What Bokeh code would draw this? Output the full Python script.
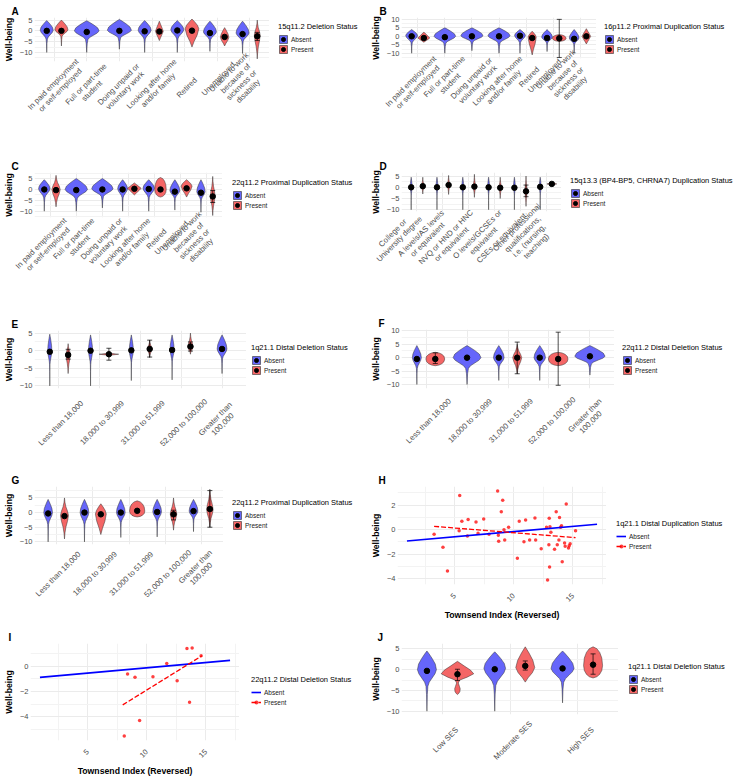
import math
from collections import Counter

from bokeh.plotting import figure
from bokeh.models import (ColumnDataSource, Range1d, FixedTicker, Legend, LegendItem,
                          Whisker, TeeHead)
from bokeh.layouts import column, row
from bokeh.embed import file_html
from bokeh.resources import INLINE

FONT = "Liberation Sans"
ABSENT_FILL = "#6666FA"
PRESENT_FILL = "#F46666"
OUTLINE = "#333333"
GRID = "#EBEBEB"
GRID_MINOR = "#F3F3F3"
TICK_TEXT = "#4D4D4D"
DODGE = 0.225
CAT_FONT_PX = 7.8

# ---------------------------------------------------------------- categories
EMPLOYMENT = ["In paid employment\nor self-employed", "Full or part-time\nstudent",
              "Doing unpaid or\nvoluntary work", "Looking after home\nand/or family",
              "Retired", "Unemployed",
              "Unable to work\nbecause of\nsickness or\ndisability"]
EDUCATION = ["College or\nUniversity degree", "A levels/AS levels\nor equivalent",
             "NVQ or HND or HNC\nor equivalent", "O levels/GCSEs or\nequivalent",
             "CSEs or equivalent",
             "Other professional\nqualifications,\ni.e. (nursing,\nteaching)"]
INCOME = ["Less than 18,000", "18,000 to 30,999", "31,000 to 51,999",
          "52,000 to 100,000", "Greater than\n100,000"]
SES = ["Low SES", "Moderate SES", "High SES"]

# ------------------------------------------------ A: employment, 15q11.2 deletion
A_CAT = [0, 0, 1, 2, 3, 3, 4, 4, 5, 5, 6, 6]
A_GRP = list("APAAAPAPAPAP")
A_MEAN = [0.0, 0.0, -0.5, 0.0, -0.2, -0.3, 0.2, 0.1, -1.0, -2.8, -1.5, -2.5]
A_MAX = [4.8, 5.0, 4.7, 5.3, 4.8, 4.5, 4.8, 5.5, 4.5, 1.5, 4.5, 5.0]
A_MIN = [-10.0, -7.0, -10.0, -8.5, -10.0, -4.5, -10.0, -7.5, -9.5, -7.0, -10.5, -13.0]
A_MODE = [0.3, 0.5, 0.0, 0.3, 0.3, -0.2, 0.5, 1.0, -0.5, -3.0, -1.0, -2.0]
A_DENS = [0.20, 0.20, 0.38, 0.37, 0.20, 0.12, 0.20, 0.21, 0.20, 0.13, 0.20, 0.09]
A_SHAPE = ["tail", "tail", "tail", "tail", "tail", "diamond", "tail", "drop",
           "tail", "drop", "tail", "spindle"]
A_ERR_IDX, A_ERR_LO, A_ERR_HI = [11], [-4.5], [-0.7]

# ------------------------------------- B: employment, 16p11.2 proximal duplication
B_CAT = [0, 0, 1, 2, 3, 4, 4, 5, 5, 6, 6]
B_GRP = list("APAAAAPAPAP")
B_MEAN = [0.0, -1.0, -0.5, 0.0, 0.0, 0.3, -1.0, -1.0, -1.2, -1.5, 0.0]
B_MAX = [4.0, 2.5, 5.0, 5.0, 5.0, 4.0, 3.0, 4.0, 1.0, 4.0, 4.5]
B_MIN = [-10.0, -3.5, -10.0, -8.5, -10.0, -10.0, -11.0, -9.0, -3.0, -10.0, -4.5]
B_MODE = [0.3, -1.0, 0.0, 0.3, 0.3, 0.5, -0.5, -0.5, -1.2, -1.0, 0.0]
B_DENS = [0.22, 0.22, 0.40, 0.41, 0.41, 0.20, 0.15, 0.20, 0.25, 0.18, 0.16]
B_SHAPE = ["tail", "diamond", "tail", "tail", "tail", "tail", "drop", "tail",
           "round", "tail", "diamond"]
B_ERR_IDX, B_ERR_LO, B_ERR_HI = [8], [-12.5], [10.0]

# ------------------------------------- C: employment, 22q11.2 proximal duplication
C_CAT = [0, 0, 1, 2, 3, 3, 4, 4, 5, 5, 6, 6]
C_GRP = list("APAAAPAPAPAP")
C_MEAN = [0.0, -0.3, -0.3, 0.0, 0.0, 0.3, 0.2, 0.0, -1.0, 0.5, -1.5, -3.2]
C_MAX = [4.5, 6.5, 5.0, 5.0, 4.5, 3.0, 4.5, 5.5, 4.5, 4.5, 4.5, 6.0]
C_MIN = [-10.0, -8.0, -10.0, -8.5, -10.0, -2.5, -10.0, -3.5, -9.5, -3.5, -10.5, -12.0]
C_MODE = [0.3, 0.0, 0.0, 0.3, 0.3, 0.5, 0.5, 0.0, -0.5, 1.5, -1.0, -3.0]
C_DENS = [0.22, 0.16, 0.43, 0.41, 0.19, 0.26, 0.22, 0.22, 0.19, 0.21, 0.16, 0.09]
C_SHAPE = ["tail", "spindle", "tail", "tail", "tail", "diamond", "tail", "round",
           "tail", "drop", "tail", "spindle"]
C_ERR_IDX, C_ERR_LO, C_ERR_HI = [11], [-6.0], [-0.5]

# -------------------------------- D: education, 15q13.3 (BP4-BP5) duplication
D_CAT = [0, 0, 1, 1, 2, 2, 3, 3, 4, 4, 5, 5]
D_GRP = list("APAPAPAPAPAP")
D_MEAN = [0.0, 0.5, 0.0, 1.0, 0.0, 0.3, 0.0, -0.2, -0.2, -1.8, 0.2, 1.5]
D_MAX = [4.5, 4.5, 4.5, 5.3, 4.5, 5.8, 4.5, 4.5, 4.5, 5.0, 4.5, 2.0]
D_MIN = [-10.0, -3.0, -10.0, -3.2, -10.0, -4.5, -10.0, -5.0, -10.0, -8.5, -10.0, 1.0]
D_MODE = [0.3, 0.5, 0.3, 1.0, 0.3, 0.3, 0.3, 0.0, 0.3, -1.5, 0.3, 1.5]
D_DENS = [0.035, 0.045, 0.035, 0.045, 0.035, 0.045, 0.035, 0.045, 0.035, 0.045, 0.035, 0.19]
D_SHAPE = ["tail", "spindle", "tail", "spindle", "tail", "spindle", "tail", "spindle",
           "tail", "spindle", "tail", "diamond"]
D_ERR_IDX, D_ERR_LO, D_ERR_HI = [9], [-4.2], [1.0]

# ------------------------------------------- E: income, 1q21.1 distal deletion
E_CAT = [0, 0, 1, 1, 2, 2, 3, 3, 4]
E_GRP = list("APAPAPAPA")
E_MEAN = [-0.3, -1.2, 0.0, -1.0, 0.1, 0.5, 0.2, 1.2, 0.5]
E_MAX = [4.7, 2.0, 4.5, -0.7, 4.5, 3.0, 4.5, 5.0, 4.5]
E_MIN = [-10.0, -6.5, -10.0, -1.3, -8.5, -2.0, -8.3, -1.0, -6.5]
E_MODE = [0.0, -1.0, 0.0, -1.0, 0.0, 0.5, 0.3, 1.0, 0.5]
E_DENS = [0.05, 0.055, 0.05, 0.24, 0.05, 0.055, 0.05, 0.065, 0.12]
E_SHAPE = ["tail", "spindle", "tail", "diamond", "tail", "spindle", "tail", "spindle", "tail"]
E_ERR_IDX, E_ERR_LO, E_ERR_HI = [1, 3, 5, 7], [-2.4, -2.7, -1.8, -0.1], [0.4, 0.7, 3.0, 2.5]

# ------------------------------------------ F: income, 22q11.2 distal deletion
F_CAT = [0, 0, 1, 2, 2, 3, 3, 4]
F_GRP = list("APAAPAPA")
F_MEAN = [-0.5, -0.5, 0.0, 0.0, 0.0, 0.0, -0.5, 0.5]
F_MAX = [4.5, 2.0, 4.5, 4.5, 5.0, 4.5, 2.0, 4.5]
F_MIN = [-10.0, -3.0, -10.0, -8.5, -6.0, -8.5, -3.0, -6.5]
F_MODE = [0.0, -0.5, 0.0, 0.0, 0.0, 0.0, -0.5, 0.5]
F_DENS = [0.11, 0.23, 0.34, 0.13, 0.11, 0.14, 0.24, 0.37]
F_SHAPE = ["tail", "round", "tail", "tail", "spindle", "tail", "round", "tail"]
F_ERR_IDX, F_ERR_LO, F_ERR_HI = [1, 4, 6], [-2.2, -6.0, -10.3], [1.8, 5.8, 9.5]

# -------------------------------------- G: income, 22q11.2 proximal duplication
G_CAT = [0, 0, 1, 1, 2, 2, 3, 3, 4, 4]
G_GRP = list("APAPAPAPAP")
G_MEAN = [-0.3, -1.2, 0.0, -0.6, 0.0, 0.6, 0.2, -0.6, 0.5, 1.2]
G_MAX = [4.5, 5.0, 4.5, 3.0, 4.5, 4.0, 4.5, 5.0, 4.5, 8.0]
G_MIN = [-10.0, -9.0, -10.0, -7.5, -8.5, -1.5, -8.3, -6.0, -6.5, -5.0]
G_MODE = [0.0, -1.0, 0.0, -0.5, 0.0, 0.5, 0.3, -0.5, 0.5, 1.0]
G_DENS = [0.12, 0.11, 0.12, 0.15, 0.12, 0.21, 0.12, 0.09, 0.12, 0.09]
G_SHAPE = ["tail", "spindle", "tail", "drop", "tail", "round", "tail", "spindle", "tail", "spindle"]
G_ERR_IDX, G_ERR_LO, G_ERR_HI = [7, 9], [-2.5, -5.0], [0.8, 7.5]

# ---------------------------------------------- J: SES, 1q21.1 distal deletion
J_CAT = [0, 0, 1, 1, 2, 2]
J_GRP = list("APAPAP")
J_MEAN = [-0.3, -1.1, 0.1, 0.9, 0.3, 1.2]
J_MAX = [4.5, 2.0, 4.3, 5.5, 4.5, 5.5]
J_MIN = [-10.0, -6.0, -10.0, -3.0, -8.0, -2.0]
J_MODE = [0.0, -1.0, 0.3, 0.5, 0.3, 1.0]
J_DENS = [0.14, 0.24, 0.16, 0.14, 0.17, 0.14]
J_SHAPE = ["tail", "twin", "tail", "drop", "tail", "round"]
J_ERR_IDX, J_ERR_LO, J_ERR_HI = [1, 3, 5], [-2.6, -0.1, -1.1], [0.1, 2.1, 3.8]

# --------------------------- H: Townsend index, 1q21.1 distal duplication carriers
H_X = [3.25, 4.0, 4.38, 5.42, 5.37, 5.6, 6.07, 6.13, 6.8, 6.97, 7.45, 7.9, 8.63, 8.69,
       8.72, 8.94, 9.06, 9.17, 9.23, 9.56, 10.3, 10.46, 10.86, 11.0, 11.34, 11.79, 11.85,
       12.32, 12.77, 12.86, 12.97, 13.0, 13.03, 13.06, 13.14, 13.45, 13.59, 13.68, 13.82,
       13.87, 13.96, 14.04, 14.1, 14.3, 14.35, 14.44, 14.63, 14.69, 14.77, 15.23]
H_Y = [-0.38, -1.44, -3.37, 2.78, -0.08, 0.68, -0.52, 0.82, 0.63, -0.3, 0.87, -0.38, 3.16,
       -0.46, -0.95, 1.47, 2.39, 0.0, -0.84, 0.19, -2.34, 0.68, -0.98, 0.79, -0.84, 0.95,
       -0.84, -1.55, 0.19, -4.11, -1.22, 0.93, -3.05, 0.24, -0.22, -1.6, 1.47, -1.22,
       -0.84, 1.0, 0.19, 0.33, -2.61, -1.09, -1.36, 2.1, -1.5, -1.31, -1.14, -0.08]
H_FIT_ABSENT_X, H_FIT_ABSENT_Y = [0.95, 17.05], [-0.92, 0.44]
H_FIT_PRESENT_X, H_FIT_PRESENT_Y = [3.25, 15.23], [0.27, -0.65]

# ----------------------------- I: Townsend index, 22q11.2 distal deletion carriers
I_X = [8.09, 8.37, 9.0, 9.39, 10.52, 11.69, 12.57, 13.4, 13.62, 13.84, 14.6]
I_Y = [-5.56, -0.61, -0.87, -4.32, -0.82, 0.24, -1.14, 1.43, -2.86, 1.48, 0.85]
I_FIT_ABSENT_X, I_FIT_ABSENT_Y = [0.95, 17.05], [-0.87, 0.48]
I_FIT_PRESENT_X, I_FIT_PRESENT_Y = [7.96, 14.67], [-3.07, 0.85]

# violin outline templates: (upper fractions, widths, lower fractions, widths)
SHAPES = {
    "tail": ([0, .3, .6, .85, 1], [1, .88, .55, .22, 0],
             [0, .1, .2, .3, .4, .6, 1], [1, .85, .55, .25, .1, .04, 0]),
    "drop": ([0, .35, .7, 1], [1, .8, .4, 0], [0, .35, .7, 1], [1, .75, .3, 0]),
    "diamond": ([0, .3, .7, 1], [1, .72, .3, 0], [0, .3, .7, 1], [1, .72, .3, 0]),
    "round": ([0, .4, .7, .9, 1], [1, .92, .7, .4, 0], [0, .4, .7, .9, 1], [1, .92, .7, .4, 0]),
    "spindle": ([0, .25, .5, .75, 1], [1, .75, .35, .12, 0],
                [0, .25, .5, .75, 1], [1, .75, .35, .12, 0]),
    "twin": ([0, .3, .6, 1], [1, .8, .45, 0],
             [0, .16, .3, .44, .6, .72, .86, .96, 1], [1, .6, .15, .05, .12, .17, .15, .06, 0]),
}

# advance widths of Liberation Sans (1/1000 em), used to centre the rotated labels
CHAR_W = {" ": 278, "!": 278, "(": 333, ")": 333, ",": 278, "-": 333, ".": 278, "/": 278,
          ":": 278}
CHAR_W.update({d: 556 for d in "0123456789"})
CHAR_W.update(dict(zip("ABCDEFGHIJKLMNOPQRSTUVWXYZ",
                       [667, 667, 722, 722, 667, 611, 778, 722, 278, 500, 667, 556, 833,
                        722, 778, 667, 778, 722, 667, 611, 722, 667, 944, 667, 667, 611])))
CHAR_W.update(dict(zip("abcdefghijklmnopqrstuvwxyz",
                       [556, 556, 500, 556, 556, 278, 556, 556, 222, 222, 500, 222, 833,
                        556, 556, 556, 556, 333, 500, 278, 556, 500, 722, 500, 500, 500])))
NBSP = "\u00a0"
COS45 = 0.7071


def text_width(s, size):
    return sum(CHAR_W.get(ch, 556) for ch in s) * size / 1000.0


def centred_label(label, width, size):
    # pad every line on both sides so the lines sit centred in a block of equal width
    space = 278 * size / 1000.0
    lines = []
    for ln in label.split("\n"):
        n = max(0, int(round((width - text_width(ln, size)) / 2 / space)))
        lines.append(NBSP * n + ln + NBSP * n)
    return "\n".join(lines)


def violin_polygon(cx, top, bottom, mode, hw, shape):
    uf, uw, lf, lw = SHAPES[shape]
    up_y = [mode + f * (top - mode) for f in uf]
    lo_y = [mode - f * (mode - bottom) for f in lf]
    prof_y = up_y[::-1] + lo_y[1:]
    prof_w = uw[::-1] + lw[1:]
    xs = [cx + w * hw for w in prof_w] + [cx - w * hw for w in prof_w[::-1]]
    ys = prof_y + prof_y[::-1]
    return xs, ys


def base_figure(frame, xr, yr, letter, letter_at, h):
    l, r, t, b = frame
    p = figure(width=r, height=h, x_range=Range1d(*xr), y_range=Range1d(*yr),
               min_border_left=l, min_border_right=0, min_border_top=t,
               min_border_bottom=h - b, frame_align=False, output_backend="svg",
               toolbar_location=None, tools="", title=letter)
    p.background_fill_color = "white"
    p.border_fill_color = "white"
    p.outline_line_color = None
    p.title.align = "left"
    p.title.offset = letter_at[0] - l
    p.title.standoff = 2
    p.title.text_font = FONT
    p.title.text_font_size = "10px"
    p.title.text_font_style = "bold"
    p.title.text_color = "black"
    for ax in p.axis:
        ax.axis_line_color = None
        ax.major_tick_line_color = None
        ax.minor_tick_line_color = None
        ax.major_tick_out = 0
        ax.major_tick_in = 0
        ax.minor_tick_out = 0
        ax.minor_tick_in = 0
        ax.major_label_text_font = FONT
        ax.major_label_text_font_size = "7.5px"
        ax.major_label_text_color = TICK_TEXT
        ax.axis_label_text_font = FONT
        ax.axis_label_text_font_size = "8.7px"
        ax.axis_label_text_font_style = "bold"
        ax.axis_label_text_color = "black"
    p.yaxis.major_label_standoff = 2
    p.yaxis.axis_label_standoff = 3
    p.yaxis.axis_label = "Well-being"
    p.xgrid.grid_line_color = GRID
    p.ygrid.grid_line_color = GRID
    p.ygrid.minor_grid_line_color = GRID_MINOR
    return p


def legend_figure(w, h, frame, legend_at):
    # blank strip beside the plot; its frame starts at the legend's top-left corner
    left = legend_at[0] - frame[1]
    top = legend_at[1] - 31
    lf = figure(width=w, height=h, x_range=Range1d(1000, 1001), y_range=Range1d(1000, 1001),
                x_axis_type=None, y_axis_type=None, min_border_left=left, min_border_top=top,
                min_border_right=0, min_border_bottom=0, frame_align=False,
                output_backend="svg", toolbar_location=None, tools="")
    lf.outline_line_color = None
    lf.background_fill_color = "white"
    lf.border_fill_color = "white"
    return lf


def add_legend(lf, items, title):
    legend = Legend(items=items, title=title, location="top_left")
    legend.title_text_font = FONT
    legend.title_text_font_size = "7.5px"
    legend.title_text_font_style = "normal"
    legend.title_text_color = "black"
    legend.title_standoff = 3
    legend.label_text_font = FONT
    legend.label_text_font_size = "6.5px"
    legend.label_text_color = "#1A1A1A"
    legend.label_standoff = 3
    legend.glyph_width = 10
    legend.glyph_height = 10
    legend.label_height = 10
    legend.spacing = 0
    legend.padding = 0
    legend.margin = 0
    legend.border_line_color = None
    legend.background_fill_alpha = 0
    lf.add_layout(legend)


def category_axis(p, cats, frame, xr, label_drop):
    # rotated category names, each block centred just below and right of its category,
    # nudged left where the frame edge or the next name leaves no room
    size = CAT_FONT_PX
    ppu = (frame[1] - frame[0]) / (xr[1] - xr[0])
    widest = max(text_width(ln, size) for c in cats for ln in c.split("\n"))
    nlines = [len(c.split("\n")) for c in cats]
    last_px = (xr[1] - 0.02 - xr[0]) * ppu
    anchors, blocks = [0.0] * len(cats), [0.0] * len(cats)
    for i in reversed(range(len(cats))):
        own = max(text_width(ln, size) for ln in cats[i].split("\n"))
        tick_px = (i + 1 - xr[0]) * ppu
        limit = last_px
        if i < len(cats) - 1:
            sep = 0.5 * (nlines[i] + nlines[i + 1]) * size * 1.3
            limit = min(limit, anchors[i + 1] - sep / COS45)
        block = widest
        anchor = tick_px + 3 + 0.354 * block
        if anchor > limit:
            block = max(own, (limit - tick_px - 3) / 0.354)
            anchor = min(tick_px + 3 + 0.354 * block, limit)
        anchors[i], blocks[i] = anchor, block
    ticks = [round(xr[0] + a / ppu, 4) for a in anchors]
    p.xaxis.ticker = FixedTicker(ticks=ticks, minor_ticks=[])
    p.xaxis.major_label_overrides = {t: centred_label(c, b, size)
                                     for t, c, b in zip(ticks, cats, blocks)}
    p.xaxis.major_label_orientation = math.pi / 4
    p.xaxis.major_label_standoff = max(0, int(round(label_drop - 0.354 * widest)))
    p.xaxis.major_label_text_font_size = "%.1fpx" % size
    p.xaxis.major_label_text_line_height = 1.0


def violin_panel(letter, letter_at, cats, cat, grp, mean, vmax, vmin, vmode, dens, shape,
                 err_idx, err_lo, err_hi, title, yticks, yminor, yr, frame, legend_at, w, h,
                 label_drop=26):
    xr = (0.4, len(cats) + 0.6)
    p = base_figure(frame, xr, yr, letter, letter_at, h)
    lf = legend_figure(w - frame[1], h, frame, legend_at)
    p.xgrid.ticker = FixedTicker(ticks=list(range(1, len(cats) + 1)), minor_ticks=[])
    yt = FixedTicker(ticks=yticks, minor_ticks=yminor)
    p.yaxis.ticker = yt
    p.ygrid.ticker = yt
    category_axis(p, cats, frame, xr, label_drop)

    per_cat = Counter(cat)
    xpos = []
    for c, g in zip(cat, grp):
        off = 0.0 if per_cat[c] == 1 else (-DODGE if g == "A" else DODGE)
        xpos.append(c + 1 + off)

    keys = {}
    groups = (("A", ABSENT_FILL), ("P", PRESENT_FILL))
    for code, fill in groups:
        idx = [i for i, g in enumerate(grp) if g == code]
        polys = [violin_polygon(xpos[i], vmax[i], vmin[i], vmode[i], dens[i], shape[i])
                 for i in idx]
        xs, ys = [q[0] for q in polys], [q[1] for q in polys]
        p.patches(xs=xs, ys=ys, fill_color=fill, line_color=OUTLINE, line_width=0.5)
        keys[code] = [lf.patches(xs=xs, ys=ys, fill_color=fill, line_color=OUTLINE,
                                 line_width=0.6)]
    if err_idx:
        src = ColumnDataSource(dict(x=[xpos[i] for i in err_idx], lo=err_lo, hi=err_hi))
        p.add_layout(Whisker(source=src, base="x", lower="lo", upper="hi",
                             line_color="black", line_width=0.7, level="glyph",
                             upper_head=TeeHead(size=5, line_width=0.7, line_color="black"),
                             lower_head=TeeHead(size=5, line_width=0.7, line_color="black")))
    for code, _ in groups:
        idx = [i for i, g in enumerate(grp) if g == code]
        mx, my = [xpos[i] for i in idx], [mean[i] for i in idx]
        p.scatter(mx, my, size=5.5, color="black")
        keys[code].append(lf.scatter(mx, my, size=5.5, color="black"))

    add_legend(lf, [LegendItem(label="Absent", renderers=keys["A"]),
                    LegendItem(label="Present", renderers=keys["P"])], title)
    return p, lf


def scatter_panel(letter, letter_at, px, py, ax_, ay_, bx_, by_, title, yticks, yminor,
                  yr, frame, legend_at, w, h):
    p = base_figure(frame, (0.15, 17.85), yr, letter, letter_at, h)
    lf = legend_figure(w - frame[1], h, frame, legend_at)
    xt = FixedTicker(ticks=[5, 10, 15], minor_ticks=[2.5, 7.5, 12.5, 17.5])
    p.xaxis.ticker = xt
    p.xgrid.ticker = xt
    p.xgrid.minor_grid_line_color = GRID_MINOR
    yt = FixedTicker(ticks=yticks, minor_ticks=yminor)
    p.yaxis.ticker = yt
    p.ygrid.ticker = yt
    p.xaxis.major_label_orientation = math.pi / 4
    p.xaxis.major_label_standoff = 10
    p.xaxis.axis_label = "Townsend Index (Reversed)"
    p.xaxis.axis_label_standoff = 3

    p.scatter(px, py, size=3.5, fill_color="#FF0000", fill_alpha=0.75, line_color=None)
    p.line(ax_, ay_, line_color="#0000FF", line_width=1.6)
    p.line(bx_, by_, line_color="#FF0000", line_width=1.3, line_dash="5 2")

    k_pts = lf.scatter(px, py, size=3.5, fill_color="#FF0000", fill_alpha=0.75, line_color=None)
    k_abs = lf.line(ax_, ay_, line_color="#0000FF", line_width=1.6)
    k_pre = lf.line(bx_, by_, line_color="#FF0000", line_width=1.3, line_dash="5 2")
    add_legend(lf, [LegendItem(label="Absent", renderers=[k_abs]),
                    LegendItem(label="Present", renderers=[k_pre, k_pts])], title)
    return p, lf


EMP_TICKS, EMP_MINOR = [-10, -5, 0, 5], [-12.5, -7.5, -2.5, 2.5, 7.5]
WIDE_TICKS, WIDE_MINOR = [-10, -5, 0, 5, 10], [-12.5, -7.5, -2.5, 2.5, 7.5]

pA = violin_panel("A", (5, 10.5), EMPLOYMENT, A_CAT, A_GRP, A_MEAN, A_MAX, A_MIN, A_MODE,
                  A_DENS, A_SHAPE, A_ERR_IDX, A_ERR_LO, A_ERR_HI, "15q11.2 Deletion Status",
                  EMP_TICKS, EMP_MINOR, (-14.2, 6.2), (28, 269, 17, 61), (278, 53), 367, 156)
pB = violin_panel("B", (12, 10.5), EMPLOYMENT, B_CAT, B_GRP, B_MEAN, B_MAX, B_MIN, B_MODE,
                  B_DENS, B_SHAPE, B_ERR_IDX, B_ERR_LO, B_ERR_HI,
                  "16p11.2 Proximal Duplication Status",
                  WIDE_TICKS, WIDE_MINOR, (-13.1, 11.1), (34, 229, 17, 58), (237, 53), 368, 156)
pC = violin_panel("C", (6, 10), EMPLOYMENT, C_CAT, C_GRP, C_MEAN, C_MAX, C_MIN, C_MODE,
                  C_DENS, C_SHAPE, C_ERR_IDX, C_ERR_LO, C_ERR_HI,
                  "22q11.2 Proximal Duplication Status",
                  EMP_TICKS, EMP_MINOR, (-12.9, 7.8), (29, 222, 16, 61), (232, 53), 367, 156,
                  label_drop=29)
pD = violin_panel("D", (12, 10), EDUCATION, D_CAT, D_GRP, D_MEAN, D_MAX, D_MIN, D_MODE,
                  D_DENS, D_SHAPE, D_ERR_IDX, D_ERR_LO, D_ERR_HI,
                  "15q13.3 (BP4-BP5, CHRNA7) Duplication Status",
                  EMP_TICKS, EMP_MINOR, (-10.8, 6.6), (34, 194, 16, 55), (203, 51), 368, 156,
                  label_drop=29)
pE = violin_panel("E", (6, 10), INCOME, E_CAT, E_GRP, E_MEAN, E_MAX, E_MIN, E_MODE,
                  E_DENS, E_SHAPE, E_ERR_IDX, E_ERR_LO, E_ERR_HI,
                  "1q21.1 Distal Deletion Status",
                  EMP_TICKS, EMP_MINOR, (-10.75, 5.75), (29, 246, 18, 76), (251, 62), 367, 156,
                  label_drop=34)
pF = violin_panel("F", (11, 10), INCOME, F_CAT, F_GRP, F_MEAN, F_MAX, F_MIN, F_MODE,
                  F_DENS, F_SHAPE, F_ERR_IDX, F_ERR_LO, F_ERR_HI,
                  "22q11.2 Distal Deletion Status",
                  WIDE_TICKS, WIDE_MINOR, (-11.5, 10.5), (34, 247, 17, 76), (255, 62), 368, 156,
                  label_drop=32)
pG = violin_panel("G", (6, 11.5), INCOME, G_CAT, G_GRP, G_MEAN, G_MAX, G_MIN, G_MODE,
                  G_DENS, G_SHAPE, G_ERR_IDX, G_ERR_LO, G_ERR_HI,
                  "22q11.2 Proximal Duplication Status",
                  EMP_TICKS, EMP_MINOR, (-10.9, 8.9), (29, 223, 18, 76), (232, 61), 367, 156,
                  label_drop=29)
pH = scatter_panel("H", (11, 11.5), H_X, H_Y, H_FIT_ABSENT_X, H_FIT_ABSENT_Y,
                   H_FIT_PRESENT_X, H_FIT_PRESENT_Y, "1q21.1 Distal Duplication Status",
                   [-4, -2, 0, 2], [-3, -1, 1, 3], (-4.47, 3.52), (30, 239, 18, 116),
                   (249, 82), 368, 156)
pI = scatter_panel("I", (4, 11.5), I_X, I_Y, I_FIT_ABSENT_X, I_FIT_ABSENT_Y,
                   I_FIT_PRESENT_X, I_FIT_PRESENT_Y, "22q11.2 Distal Deletion Status",
                   [-4, -2, 0], [-5, -3, -1, 1], (-5.91, 1.83), (26, 239, 19, 116),
                   (251, 82), 367, 155)
pJ = violin_panel("J", (10, 11.5), SES, J_CAT, J_GRP, J_MEAN, J_MAX, J_MIN, J_MODE,
                  J_DENS, J_SHAPE, J_ERR_IDX, J_ERR_LO, J_ERR_HI,
                  "1q21.1 Distal Deletion Status",
                  EMP_TICKS, EMP_MINOR, (-10.8, 6.3), (34, 251, 19, 90), (261, 69), 368, 155)

layout = column(row(*pA, *pB), row(*pC, *pD), row(*pE, *pF), row(*pG, *pH), row(*pI, *pJ))

with open("out.html", "w") as fh:
    fh.write(file_html(layout, INLINE, title="Well-being by CNV status"))
